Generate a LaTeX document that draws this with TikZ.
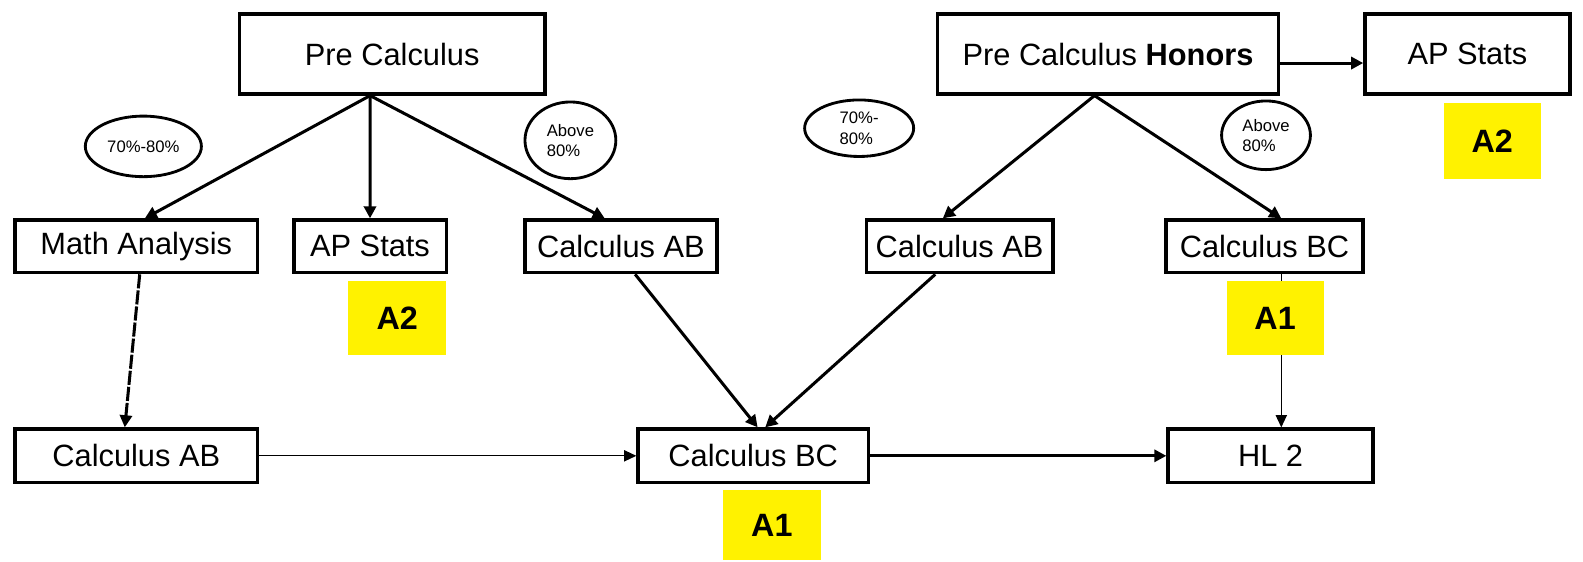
\documentclass[tikz,border=0pt]{standalone}
\usepackage{fontspec}
\setmainfont{Liberation Sans}
\usetikzlibrary{arrows.meta,shapes.geometric}
\tikzset{course/.style={draw, line width=3.4pt, inner sep=0pt, font=\fontsize{30.5}{32}\selectfont}}
\tikzset{bubble/.style={draw, ellipse, line width=2.8pt, inner sep=0pt, align=left, font=\fontsize{16.5}{20}\selectfont}}
\tikzset{grade/.style={fill=yellow, inner sep=0pt, font=\bfseries\fontsize{32}{32}\selectfont}}
\tikzset{link/.style={line width=3pt, -{Triangle[length=12pt,width=12pt]}}}
\tikzset{thinlink/.style={line width=1.3pt, -{Triangle[length=12pt,width=11pt]}}}

\begin{document}
\begin{tikzpicture}[x=1pt, y=-1pt]
  \useasboundingbox[fill=white] (0,0) rectangle (1568,556);

  % top row
  \node[course, minimum width=303pt, minimum height=79pt] (pc) at (388.5,53.5) {Pre Calculus};
  \node[course, minimum width=338pt, minimum height=79pt] (pch) at (1097.5,53.5) {Pre Calculus \textbf{Honors}};
  \node[course, minimum width=203pt, minimum height=79pt] (stats2) at (1453.5,53.5) {AP Stats};

  % score bubbles
  \node[bubble, minimum width=115pt, minimum height=60pt] (lowa) at (142,145) {70\%-80\%};
  \node[bubble, minimum width=90pt, minimum height=76pt] (higha) at (565,139) {Above\\80\%};
  \node[bubble, minimum width=108pt, minimum height=56pt] (lowb) at (851,127) {70\%-\\80\%};
  \node[bubble, minimum width=88pt, minimum height=68pt] (highb) at (1254,134) {Above\\80\%};

  % middle row
  \node[course, minimum width=240pt, minimum height=52pt] (ma) at (135,244) {Math Analysis};
  \node[course, minimum width=151pt, minimum height=52pt] (stats) at (366.5,244) {AP Stats};
  \node[course, minimum width=190pt, minimum height=52pt] (aba) at (615,244) {Calculus AB};
  \node[course, minimum width=185pt, minimum height=52pt] (abb) at (950.5,244) {Calculus AB};
  \node[course, minimum width=195pt, minimum height=52pt] (bca) at (1252.5,244) {Calculus BC};

  % bottom row
  \node[course, minimum width=240pt, minimum height=53pt] (abc) at (135,451.5) {Calculus AB};
  \node[course, minimum width=228pt, minimum height=53pt] (bcb) at (746,451.5) {Calculus BC};
  \node[course, minimum width=203pt, minimum height=53pt] (hl) at (1258.5,451.5) {HL 2};

  % connectors
  \draw[link] (pc.-118) -- (ma.73);
  \draw[link] (pc.-118) -- (stats.north);
  \draw[link] (pc.-118) -- (aba.120);
  \draw[link] (pch.-108) -- (abb.121);
  \draw[link] (pch.-108) -- (bca.59);
  \draw[link] (pch.-3) -- (pch.-3 -| stats2.west);
  \draw[link, dash pattern=on 14pt off 2pt] (ma.-83) -- (abc.112);
  \draw[link] (aba.-63) -- (bcb.81);
  \draw[link] (abb.-131) -- (bcb.67);
  \draw[thinlink] (abc.east) -- (bcb.west);
  \draw[link] (bcb.east) -- (hl.west);
  \draw[thinlink] (bca.-59) -- (bca.-59 |- hl.north);

  % levels
  \node[grade, minimum width=97pt, minimum height=74pt] (ga) at (393.5,315) {A2};
  \node[grade, minimum width=96pt, minimum height=74pt] (gb) at (1263,315) {A1};
  \node[grade, minimum width=96pt, minimum height=75pt] (gc) at (1478,139.5) {A2};
  \node[grade, minimum width=97pt, minimum height=70pt] (gd) at (764.5,520) {A1};
\end{tikzpicture}
\end{document}
